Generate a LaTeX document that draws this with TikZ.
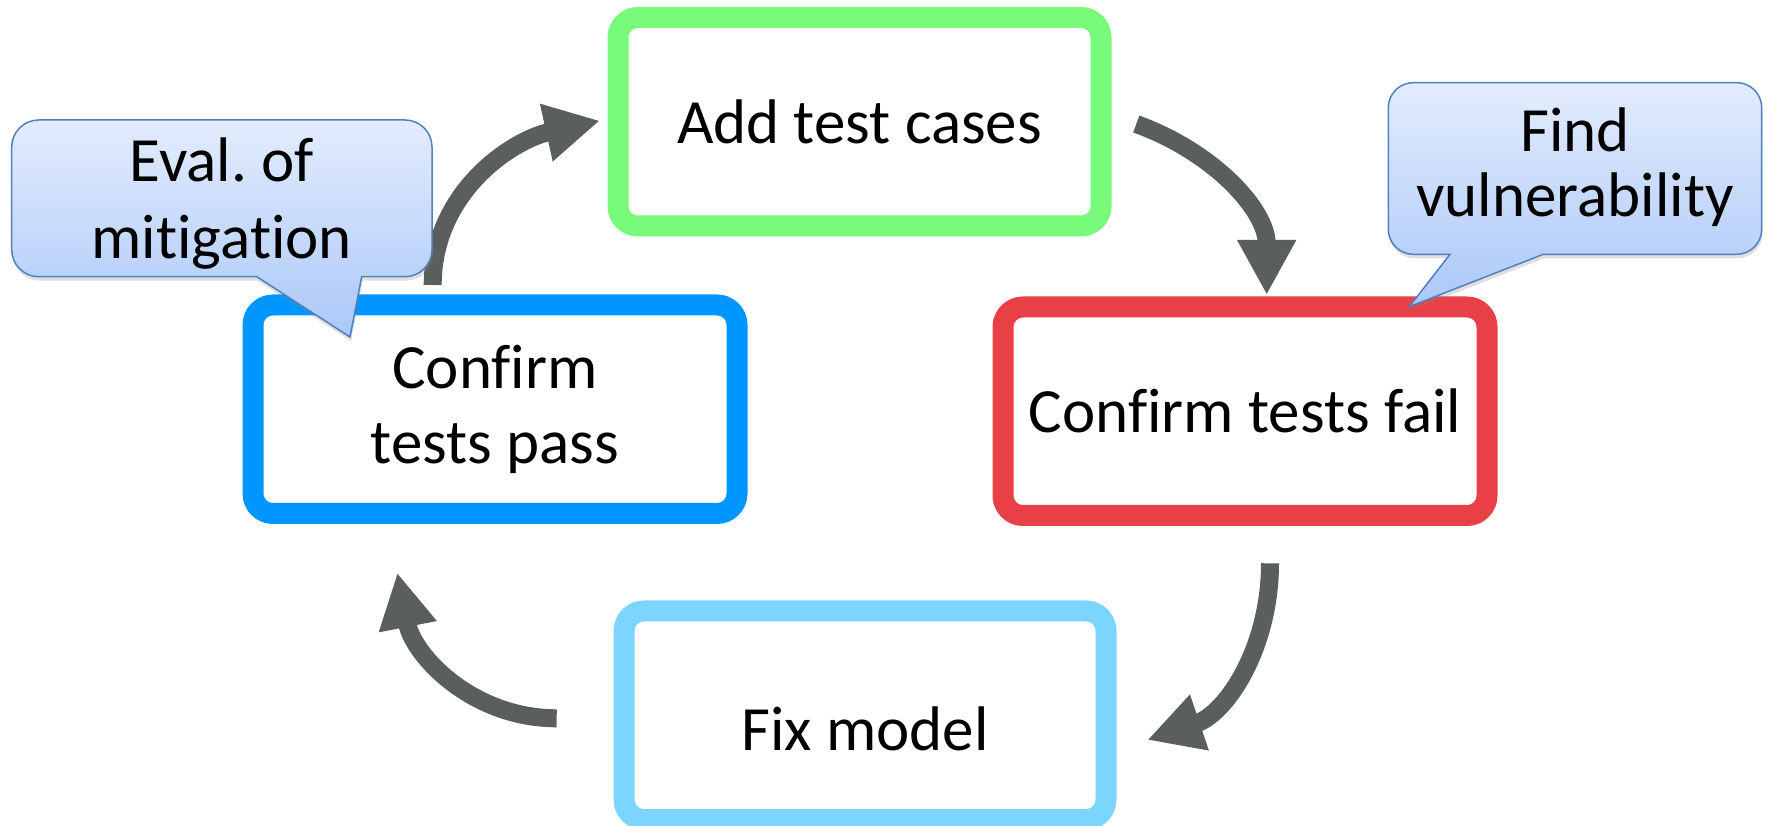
\documentclass[tikz,border=0pt]{standalone}
\usepackage{fontspec}
\setmainfont{Carlito}[Ligatures=NoCommon]
\usetikzlibrary{arrows.meta,shadows}
\frenchspacing

\definecolor{addgreen}{RGB}{120,250,122}
\definecolor{failred}{RGB}{233,63,70}
\definecolor{passblue}{RGB}{0,150,255}
\definecolor{fixblue}{RGB}{124,213,255}
\definecolor{arrowgray}{RGB}{90,95,93}
\definecolor{bubbleedge}{RGB}{79,129,189}
\definecolor{bubbletop}{RGB}{227,236,253}
\definecolor{bubblebot}{RGB}{171,200,248}

\begin{document}
\begin{tikzpicture}[x=1pt,y=1pt,
  stepbox/.style={draw, line width=21pt, rounded corners=20pt, fill=white,
    minimum width=483pt, minimum height=208.5pt, inner sep=0pt, align=center,
    font=\fontsize{63}{75}\selectfont},
  flow/.style={draw=arrowgray, line width=18pt,
    -{Triangle[length=55pt,width=55pt]}},
  bubble/.style={draw=bubbleedge, line width=1.5pt,
    top color=bubbletop, bottom color=bubblebot,
    drop shadow={shadow xshift=1pt, shadow yshift=-4pt, opacity=0.25}},
  bubbletext/.style={align=center, inner sep=0pt}]

\useasboundingbox (0,0) rectangle (1767,825);

% the four steps of the cycle
\node[stepbox, draw=addgreen] (add) at (859.5,703.25) {Add test cases};
\node[stepbox, draw=failred, minimum width=484pt] (fail) at (1245,413.75) {Confirm tests fail};
\node[stepbox, draw=fixblue, minimum width=482pt, text height=70pt, text depth=0pt] (fix) at (865,109.75) {Fix model};
\node[stepbox, draw=passblue, minimum width=484pt] (pass) at (495,415.75) {Confirm\\tests pass};

% end points of the curved arrows
\coordinate (a1s) at (432.7,540);
\coordinate (a1e) at (600,704.3);
\coordinate (a2s) at (1136.3,701);
\coordinate (a2e) at (1266.7,530);
\coordinate (a3s) at (1270,261.7);
\coordinate (a3e) at (1147.3,85);
\coordinate (a4s) at (556.7,106.7);
\coordinate (a4e) at (397.3,252.3);

\draw[flow] (a1s) to[out=90, in=192.5] (a1e);
\draw[flow] (a2s) to[out=-20, in=90] (a2e);
\draw[flow] (a3s) to[out=-90, in=18.6] (a3e);
\draw[flow] (a4s) to[out=180, in=-79] (a4e);

% speech bubbles
\path[bubble] (256.7,548.3) -- (350,488) -- (361.7,548.3) -- (405,548.3)
  arc[start angle=-90, end angle=0, radius=27] -- (432,678)
  arc[start angle=0, end angle=90, radius=27] -- (38.7,705)
  arc[start angle=90, end angle=180, radius=27] -- (11.7,575.3)
  arc[start angle=180, end angle=270, radius=27] -- cycle;
\node[bubbletext, anchor=base, font=\fontsize{63}{76.6}\selectfont] (eval) at (221.8,566.7) {Eval. of\\mitigation};

\path[bubble] (1413.3,570.7) -- (1450,570.7) -- (1409.3,518.3) -- (1543.3,570.7)
  -- (1736.7,570.7) arc[start angle=-90, end angle=0, radius=25] -- (1761.7,717.3)
  arc[start angle=0, end angle=90, radius=25] -- (1413.3,742.3)
  arc[start angle=90, end angle=180, radius=25] -- (1388.3,595.7)
  arc[start angle=180, end angle=270, radius=25] -- cycle;
\node[bubbletext, anchor=base, font=\fontsize{63}{65}\selectfont] (vuln) at (1575,608.3) {Find\\vulnerability};

\end{tikzpicture}
\end{document}
